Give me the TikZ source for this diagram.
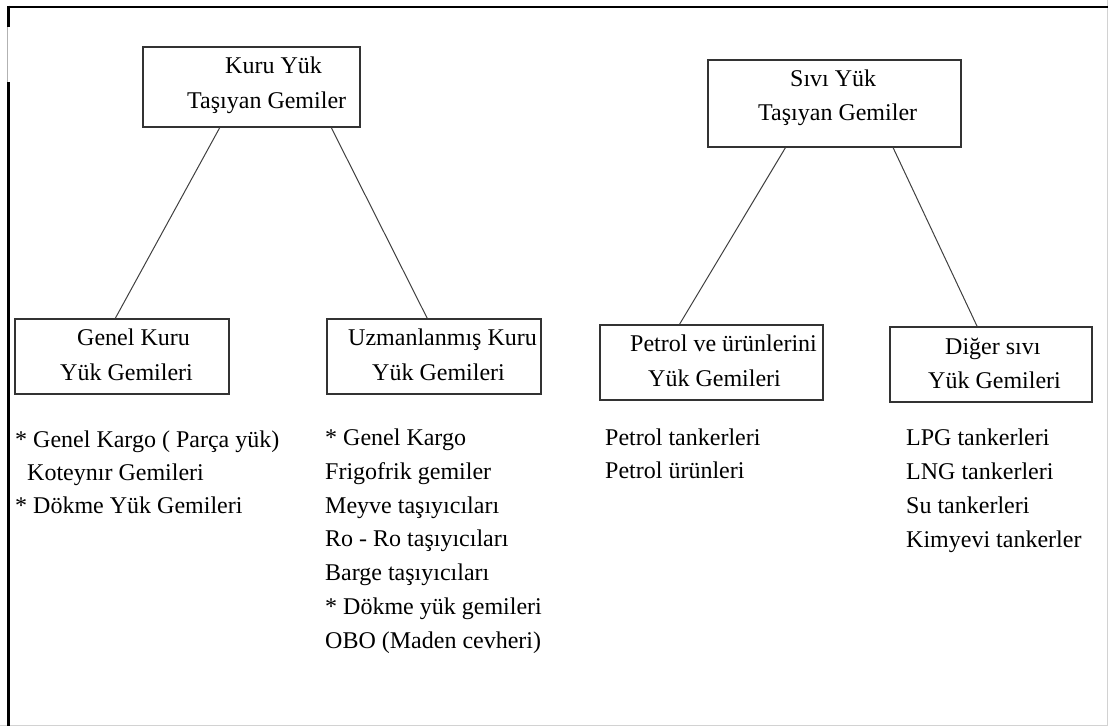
\documentclass[tikz,border=0pt]{standalone}
\usepackage{fontspec}
\setmainfont{Liberation Serif}
\begin{document}
\begin{tikzpicture}[x=1pt,y=-1pt,
  box/.style={draw=black!80,line width=1.3pt,inner sep=0pt,rectangle},
  txt/.style={anchor=base west,inner sep=0pt,font=\fontsize{24}{28}\selectfont},
  link/.style={draw=black!75,line width=1pt}]
\useasboundingbox (0,0) rectangle (1108,726);

% page frame
\draw[gray!35,line width=1pt] (1107,0) -- (1107,726);
\draw[gray!35,line width=1pt] (0,725) -- (1108,725);
\draw[gray!60,line width=0.6pt] (7,26) -- (7,83);
\draw[line width=2.7pt] (7,7) -- (1108,7);
\draw[line width=3pt] (8.3,5.7) -- (8.3,27);
\draw[line width=3pt] (8.3,82) -- (8.3,726);

% boxes
\node[box,minimum width=217pt,minimum height=80pt] (kuru) at (251.5,87) {};
\node[box,minimum width=253pt,minimum height=87pt] (sivi) at (834.5,103.5) {};
\node[box,minimum width=214pt,minimum height=75pt] (genel) at (122,356.5) {};
\node[box,minimum width=214pt,minimum height=75pt] (uzman) at (434,356.5) {};
\node[box,minimum width=223pt,minimum height=75pt] (petrol) at (711.5,362.5) {};
\node[box,minimum width=202pt,minimum height=75pt] (diger) at (991,364.5) {};

% box captions
\node[txt] (kuru1) at (225,73) {Kuru Yük};
\node[txt] (kuru2) at (187,108) {Taşıyan Gemiler};
\node[txt] (sivi1) at (790,86) {Sıvı Yük};
\node[txt] (sivi2) at (758,120.7) {Taşıyan Gemiler};
\node[txt] (genel1) at (77,345) {Genel Kuru};
\node[txt] (genel2) at (60,380) {Yük Gemileri};
\node[txt] (uzman1) at (348,345) {Uzmanlanmış Kuru};
\node[txt] (uzman2) at (372,380) {Yük Gemileri};
\node[txt] (petrol1) at (630,351.7) {Petrol ve ürünlerini};
\node[txt] (petrol2) at (648,386) {Yük Gemileri};
\node[txt] (diger1) at (945,354) {Diğer sıvı};
\node[txt] (diger2) at (928,388) {Yük Gemileri};

% connectors
\draw[link] (kuru.-128.2) -- (genel.100.6);
\draw[link] (kuru.-27.9) -- (uzman.100.6);
\draw[link] (sivi.-138.7) -- (petrol.130);
\draw[link] (sivi.-37.1) -- (diger.110.5);

% lists
\node[txt] (g1) at (15,447) {* Genel Kargo ( Parça yük)};
\node[txt] (g2) at (27,480) {Koteynır Gemileri};
\node[txt] (g3) at (15,513) {* Dökme Yük Gemileri};

\node[txt] (u1) at (325,445) {* Genel Kargo};
\node[txt] (u2) at (325,479) {Frigofrik gemiler};
\node[txt] (u3) at (325,513) {Meyve taşıyıcıları};
\node[txt] (u4) at (325,546.5) {Ro - Ro taşıyıcıları};
\node[txt] (u5) at (325,580.5) {Barge taşıyıcıları};
\node[txt] (u6) at (325,614.5) {* Dökme yük gemileri};
\node[txt] (u7) at (325,648) {OBO (Maden cevheri)};

\node[txt] (p1) at (605,445) {Petrol tankerleri};
\node[txt] (p2) at (605,478.5) {Petrol ürünleri};

\node[txt] (d1) at (906,445) {LPG tankerleri};
\node[txt] (d2) at (906,479) {LNG tankerleri};
\node[txt] (d3) at (906,513) {Su tankerleri};
\node[txt] (d4) at (906,547) {Kimyevi tankerler};
\end{tikzpicture}
\end{document}
